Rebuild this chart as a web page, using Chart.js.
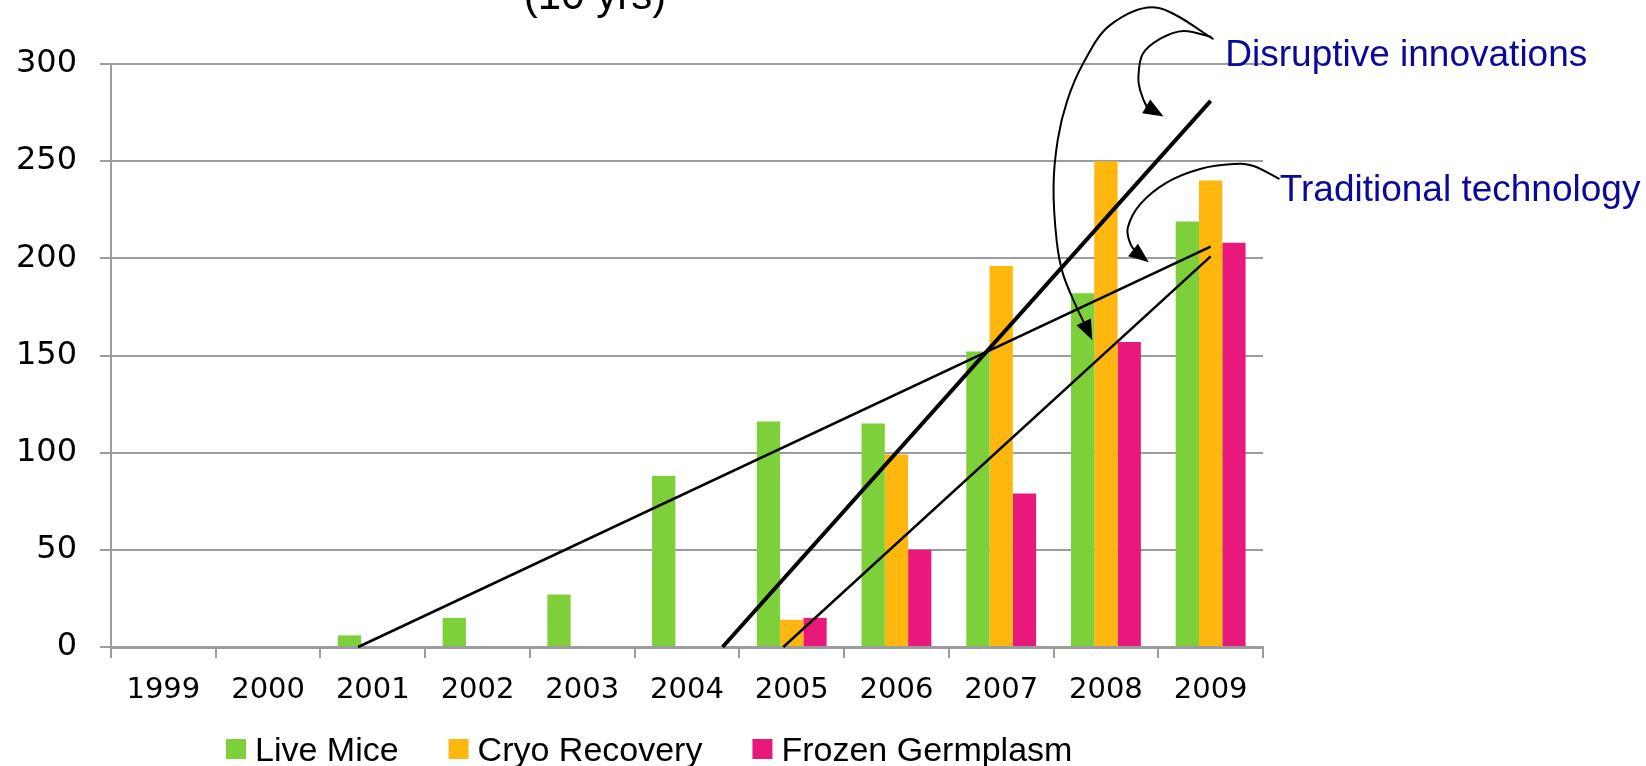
<!DOCTYPE html>
<html>
<head>
<meta charset="utf-8">
<script src="https://cdn.jsdelivr.net/npm/chart.js@4.4.1/dist/chart.umd.min.js"></script>
<style>
  html, body { margin: 0; padding: 0; background: #ffffff; overflow: hidden; }
  #wrap { width: 1646px; height: 766px; position: relative; }
</style>
</head>
<body>
<div id="wrap"><canvas id="chart" width="1646" height="766"></canvas></div>
<script>
// Yearly counts per service type
const years = ['1999', '2000', '2001', '2002', '2003', '2004', '2005', '2006', '2007', '2008', '2009'];
const liveMice = [0, 0, 6, 15, 27, 88, 116, 115, 152, 182, 219];
const cryoRecovery = [0, 0, 0, 0, 0, 0, 14, 99, 196, 250, 240];
const frozenGermplasm = [0, 0, 0, 0, 0, 0, 15, 50, 79, 157, 208];
const yTicks = [0, 50, 100, 150, 200, 250, 300];

// Hand-drawn trend lines, in (year index, count) units
const trendTraditional = [[1.86, 0], [10, 206]];
const trendDisruptive = [[5.34, 0], [10, 281]];
const trendDisruptiveLow = [[5.92, 0], [10, 201]];

// Curved callout arrows, in (year index, count) units; last point is the arrow tip
const arrowOuter = [[10.02, 313], [9.49, 329], [9.04, 320], [8.78, 300], [8.63, 281], [8.54, 261],
  [8.50, 237], [8.53, 209], [8.59, 192], [8.71, 176], [8.87, 158]];
const arrowInner = [[10.00, 314], [9.74, 317], [9.52, 313], [9.35, 305], [9.31, 293], [9.33, 286],
  [9.39, 278], [9.55, 273]];
const arrowTraditional = [[10.65, 241], [10.41, 247.5], [10.22, 248.5], [9.90, 246], [9.58, 239],
  [9.33, 228], [9.21, 216], [9.23, 208], [9.29, 203], [9.41, 198]];

// Callout captions anchored in (year index, count) units
const captions = [
  { text: 'Disruptive innovations', at: [10.14, 299] },
  { text: 'Traditional technology', at: [10.66, 229.5] }
];

const GREEN = '#7ED03B';
const ORANGE = '#FDB70E';
const PINK = '#E9187B';
const GRID = '#9c9c9c';

// Straight trend lines drawn over the bars, through the value scales
const trendPlugin = {
  id: 'trends',
  afterDatasetsDraw(chart) {
    const ctx = chart.ctx;
    const xs = chart.scales.xl;
    const ys = chart.scales.y;
    ctx.save();
    ctx.strokeStyle = '#000000';
    ctx.lineCap = 'butt';
    for (const [line, width] of [[trendTraditional, 2.5], [trendDisruptive, 4], [trendDisruptiveLow, 2.5]]) {
      ctx.lineWidth = width;
      ctx.beginPath();
      line.forEach(([i, v], k) => {
        const px = xs.getPixelForValue(i), py = ys.getPixelForValue(v);
        if (k === 0) ctx.moveTo(px, py); else ctx.lineTo(px, py);
      });
      ctx.stroke();
    }
    ctx.restore();
  }
};

const calloutPlugin = {
  id: 'callouts',
  afterDraw(chart) {
    const ctx = chart.ctx;
    const xs = chart.scales.xl;
    const ys = chart.scales.y;
    const toPx = ([i, v]) => [xs.getPixelForValue(i), ys.getPixelForValue(v)];
    ctx.save();

    // title line
    ctx.fillStyle = '#000000';
    ctx.font = '42px "Liberation Sans", Arial, sans-serif';
    ctx.textAlign = 'center';
    ctx.textBaseline = 'alphabetic';
    ctx.fillText('(10 yrs)', 595, 9);

    // arrows
    ctx.strokeStyle = '#000000';
    ctx.fillStyle = '#000000';
    ctx.lineWidth = 2;
    ctx.lineJoin = 'round';
    ctx.lineCap = 'round';
    for (const path of [arrowOuter, arrowInner, arrowTraditional]) {
      const pts = path.map(toPx);
      const n = pts.length;
      const tip = pts[n - 1];
      const prev = pts[n - 2];
      const ang = Math.atan2(tip[1] - prev[1], tip[0] - prev[0]);
      const headLen = 20, headHalf = 8;
      // stop the stroke at the arrowhead base
      const end = [tip[0] - Math.cos(ang) * headLen * 0.8, tip[1] - Math.sin(ang) * headLen * 0.8];
      const p = pts.slice(0, n - 1).concat([end]);
      ctx.beginPath();
      ctx.moveTo(p[0][0], p[0][1]);
      for (let k = 0; k < p.length - 1; k++) {
        const p0 = p[k - 1] || p[k], p1 = p[k], p2 = p[k + 1], p3 = p[k + 2] || p2;
        ctx.bezierCurveTo(
          p1[0] + (p2[0] - p0[0]) / 6, p1[1] + (p2[1] - p0[1]) / 6,
          p2[0] - (p3[0] - p1[0]) / 6, p2[1] - (p3[1] - p1[1]) / 6,
          p2[0], p2[1]);
      }
      ctx.stroke();
      ctx.beginPath();
      ctx.moveTo(tip[0], tip[1]);
      ctx.lineTo(tip[0] - Math.cos(ang) * headLen + Math.sin(ang) * headHalf,
                 tip[1] - Math.sin(ang) * headLen - Math.cos(ang) * headHalf);
      ctx.lineTo(tip[0] - Math.cos(ang) * headLen - Math.sin(ang) * headHalf,
                 tip[1] - Math.sin(ang) * headLen + Math.cos(ang) * headHalf);
      ctx.closePath();
      ctx.fill();
    }

    // captions
    ctx.fillStyle = '#0a0a96';
    ctx.font = '37px "Liberation Sans", Arial, sans-serif';
    ctx.textAlign = 'left';
    ctx.textBaseline = 'alphabetic';
    for (const c of captions) {
      const [x, y] = toPx(c.at);
      ctx.fillText(c.text, x, y);
    }

    // series key
    ctx.font = '34px "Liberation Sans", Arial, sans-serif';
    let x = 226;
    const boxTop = 739, base = 761;
    chart.data.datasets.forEach(ds => {
      ctx.fillStyle = ds.backgroundColor;
      ctx.fillRect(x, boxTop, 20, 20);
      ctx.fillStyle = '#000000';
      ctx.fillText(ds.label, x + 29, base);
      x += 29 + ctx.measureText(ds.label).width + 50;
    });
    ctx.restore();
  }
};

const barStyle = (label, data, color) => ({
  label: label,
  data: data,
  backgroundColor: color,
  categoryPercentage: 0.667,
  barPercentage: 1.0
});

new Chart(document.getElementById('chart'), {
  type: 'bar',
  data: {
    labels: years,
    datasets: [
      barStyle('Live Mice', liveMice, GREEN),
      barStyle('Cryo Recovery', cryoRecovery, ORANGE),
      barStyle('Frozen Germplasm', frozenGermplasm, PINK)
    ]
  },
  options: {
    responsive: false,
    animation: false,
    layout: { padding: { top: 64, right: 383, bottom: 0, left: 0 } },
    plugins: {
      legend: { display: false },
      tooltip: { enabled: false },
      title: { display: false }
    },
    scales: {
      x: {
        type: 'category',
        offset: true,
        grid: { drawOnChartArea: false, offset: true, color: GRID, lineWidth: 2, tickLength: 11 },
        border: { color: GRID, width: 3 },
        ticks: { color: '#000000', padding: 15, maxRotation: 0,
                 font: { family: '"DejaVu Sans", Verdana, sans-serif', size: 29 } },
        afterFit(scale) { scale.height = 119; scale.paddingLeft = 0; scale.paddingRight = 0; }
      },
      xl: {
        type: 'linear',
        display: false,
        offset: false,
        min: -0.5,
        max: 10.5
      },
      y: {
        type: 'linear',
        min: 0,
        max: 300,
        afterBuildTicks(scale) { scale.ticks = yTicks.map(v => ({ value: v })); },
        grid: { color: GRID, lineWidth: 2, tickLength: 11 },
        border: { color: GRID, width: 2 },
        ticks: { color: '#000000', padding: 23,
                 font: { family: '"DejaVu Sans", Verdana, sans-serif', size: 32 } },
        afterFit(scale) { scale.width = 111; scale.paddingTop = 0; scale.paddingBottom = 0; }
      }
    }
  },
  plugins: [trendPlugin, calloutPlugin]
});
</script>
</body>
</html>
